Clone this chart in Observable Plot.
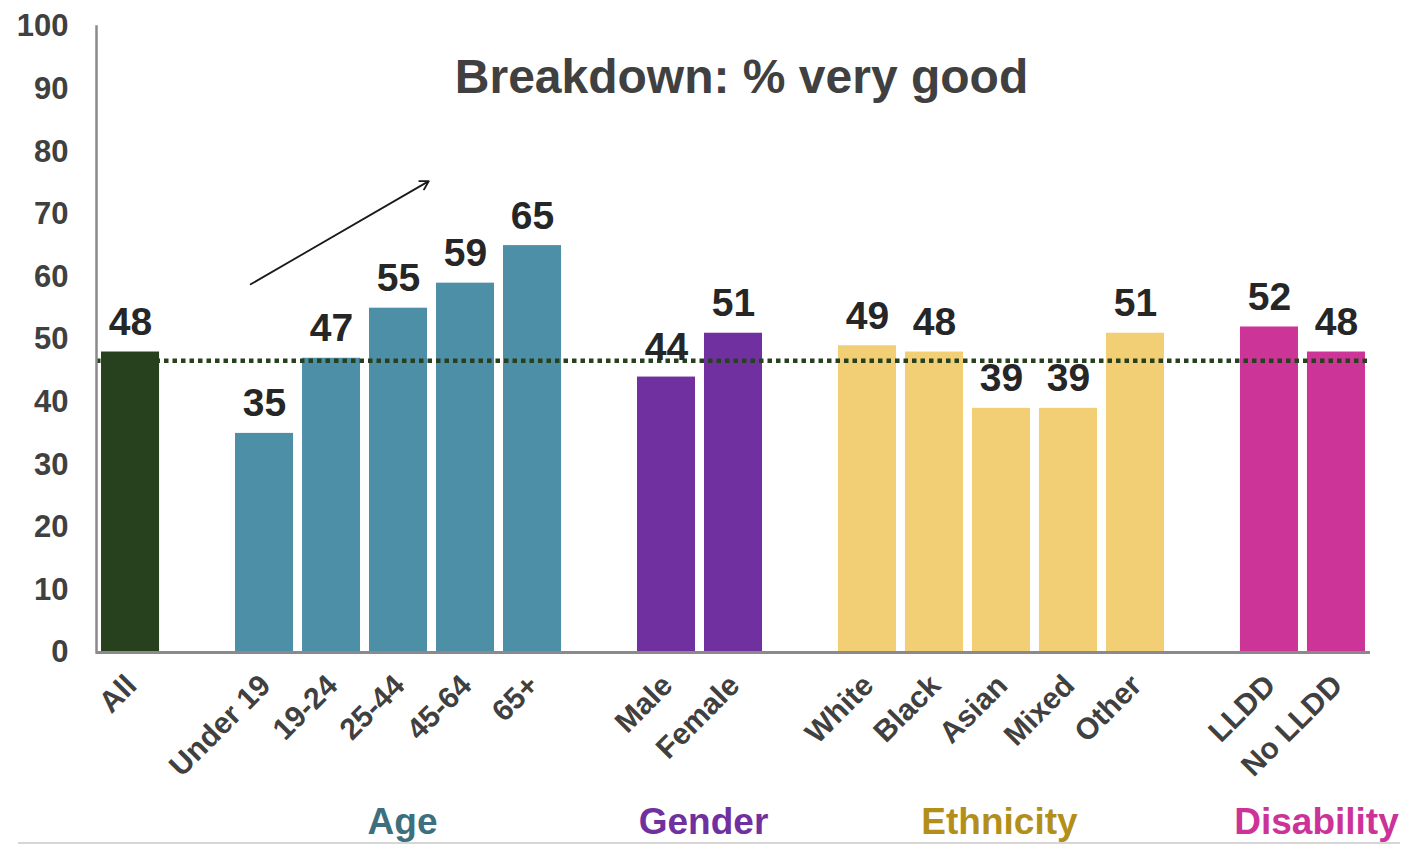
<!DOCTYPE html>
<html>
<head>
<meta charset="utf-8">
<script src="https://cdn.jsdelivr.net/npm/d3@7"></script>
<script src="https://cdn.jsdelivr.net/npm/@observablehq/plot@0.6"></script>
<style>
  html, body { margin: 0; padding: 0; background: #fff; }
  #wrap { position: relative; width: 1401px; height: 850px; overflow: hidden; }
  #rule { position: absolute; left: 18px; top: 842px; width: 1382px; height: 2px; background: #d6d6d6; }
</style>
</head>
<body>
<div id="wrap"><div id="chart"></div><div id="rule"></div></div>
<script>
// ---- data ----
const slots = ["All", "gap1", "Under 19", "19-24", "25-44", "45-64", "65+", "gap2",
  "Male", "Female", "gap3", "White", "Black", "Asian", "Mixed", "Other", "gap4", "LLDD", "No LLDD"];
const categories = ["All", "Under 19", "19-24", "25-44", "45-64", "65+",
  "Male", "Female", "White", "Black", "Asian", "Mixed", "Other", "LLDD", "No LLDD"];
const values = [48, 35, 47, 55, 59, 65, 44, 51, 49, 48, 39, 39, 51, 52, 48];
const groupOf = ["All", "Age", "Age", "Age", "Age", "Age", "Gender", "Gender",
  "Ethnicity", "Ethnicity", "Ethnicity", "Ethnicity", "Ethnicity", "Disability", "Disability"];
const groupNames = ["Age", "Gender", "Ethnicity", "Disability"];
const groupAnchor = ["25-44", "Male", "Asian", "LLDD"];
const averageLine = 46.6;
const trendArrow = [{x1: "Under 19", y1: 60.1, x2: "25-44", y2: 72.5}];
const yTicks = [0, 10, 20, 30, 40, 50, 60, 70, 80, 90, 100];

// ---- styles ----
const barColor = {All: "#27401e", Age: "#4e8fa8", Gender: "#7030a0", Ethnicity: "#f2cf75", Disability: "#cc3497"};
const labelColor = {Age: "#3d6f7e", Gender: "#7030a0", Ethnicity: "#b38f1a", Disability: "#cc3399"};
const groupDx = {Age: 4, Gender: 37, Ethnicity: -2, Disability: 47};

const data = categories.map((c, i) => ({cat: c, value: values[i], group: groupOf[i]}));

const chart = Plot.plot({
  width: 1401,
  height: 850,
  marginLeft: 96,
  marginRight: 31,
  marginTop: 26,
  marginBottom: 198,
  style: {fontFamily: "'Liberation Sans', Arial, sans-serif", color: "#404040", background: "#fff"},
  x: {domain: slots, paddingInner: 0.134, paddingOuter: 0.075, round: false, axis: null},
  y: {domain: [0, 100], axis: null},
  marks: [
    Plot.barY(data, {x: "cat", y: "value", fill: d => barColor[d.group]}),
    Plot.ruleY([averageLine], {stroke: "#27401e", strokeWidth: 4.5, strokeDasharray: "4.5 4"}),
    Plot.frame({anchor: "left", stroke: "#8a8a8a", strokeWidth: 2.5}),
    Plot.ruleY([0], {stroke: "#8a8a8a", strokeWidth: 3}),
    Plot.axisY({ticks: yTicks, tickSize: 0, tickPadding: 28, fontSize: 31, fontWeight: "bold", fill: "#404040"}),
    Plot.axisX({ticks: categories, tickSize: 0, tickPadding: 28, tickRotate: -45, dx: 1,
      fontSize: 30, fontWeight: "bold", fill: "#404040"}),
    Plot.text(data, {x: "cat", y: "value", text: d => String(d.value), lineAnchor: "bottom", dy: -17,
      fontSize: 39, fontWeight: "bold", fill: "#262626"}),
    Plot.arrow(trendArrow, {x1: "x1", y1: "y1", x2: "x2", y2: "y2", insetStart: -16, insetEnd: -35,
      stroke: "#1a1a1a", strokeWidth: 1.8, headLength: 8}),
    Plot.text(["Breakdown: % very good"], {frameAnchor: "top", lineAnchor: "top", dy: 32, dx: 8,
      fontSize: 48, fontWeight: "bold", fill: "#404040"}),
    ...groupNames.map((g, i) => Plot.text([g], {x: () => groupAnchor[i], frameAnchor: "bottom",
      lineAnchor: "top", dy: 155, dx: groupDx[g], fontSize: 37, fontWeight: "bold", fill: labelColor[g]}))
  ]
});
document.getElementById("chart").appendChild(chart);
</script>
</body>
</html>
